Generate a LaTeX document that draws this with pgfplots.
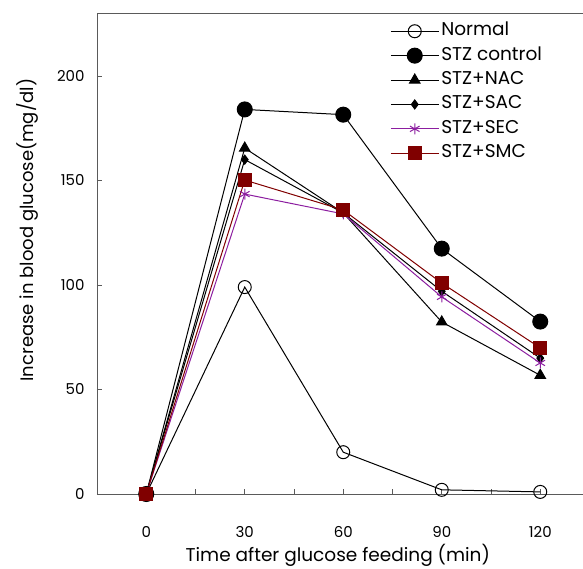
\documentclass[border=0pt]{standalone}
\usepackage{pgfplots}
\pgfplotsset{compat=1.18}
\usepackage{fontspec}
\setmainfont{Poppins}
\definecolor{smc}{RGB}{128,0,0}
\definecolor{sec}{RGB}{140,30,160}
\definecolor{axisgray}{RGB}{90,90,90}
\begin{document}
\begin{tikzpicture}
\begin{axis}[
    scale only axis,
    width=492.5pt,
    height=480.7pt,
    xmin=-15, xmax=135,
    ymin=0, ymax=230,
    clip=false,
    axis line style={axisgray, line width=0.8pt},
    tick style={axisgray, line width=0.8pt},
    major tick length=5pt,
    minor tick length=5pt,
    tick align=inside,
    xtick={0,30,60,90,120},
    minor xtick={15,45,75,105},
    ytick={0,50,100,150,200},
    xtick pos=bottom,
    ytick pos=left,
    font=\fontsize{15}{18}\selectfont,
    /pgf/number format/assume math mode=true,
    xticklabel style={yshift=-29pt},
    yticklabel style={xshift=-9pt},
    xlabel={Time after glucose feeding (min)},
    ylabel={Increase in blood glucose(mg/dl)},
    xlabel style={font=\fontsize{18.5}{21}\selectfont, at={(axis description cs:0.489,-0.127)}, anchor=center},
    ylabel style={font=\fontsize{18}{21}\selectfont, at={(axis description cs:-0.142,0.549)}, anchor=center},
    legend style={draw=none, fill=none, at={(axis description cs:0.593,0.987)}, anchor=north west,
        row sep=3.4pt, font=\fontsize{18.5}{21}\selectfont, inner sep=1pt,
        nodes={inner sep=2pt, text height=13pt, text depth=4pt}},
    legend cell align=left,
    legend image code/.code={\draw[mark repeat=2,mark phase=2] plot coordinates {(0pt,0pt) (24pt,0pt) (48pt,0pt)};},
]
\addplot[black, line width=1pt, mark=o, mark size=6.5pt, mark options={fill=white, line width=1pt}]
  coordinates {(0,0) (30,99) (60,20) (90,2) (120,1)};
\addlegendentry{Normal}
\addplot[black, line width=1pt, mark=*, mark size=7.5pt]
  coordinates {(0,0) (30,184) (60,181.5) (90,117.4) (120,82.5)};
\addlegendentry{STZ control}
\addplot[black, line width=1pt, mark=triangle*, mark size=6pt]
  coordinates {(0,0) (30,165.5) (60,134.5) (90,82.3) (120,56.8)};
\addlegendentry{STZ+NAC}
\addplot[black, line width=1pt, mark=diamond*, mark size=4.5pt]
  coordinates {(0,0) (30,160) (60,134.5) (90,97) (120,65)};
\addlegendentry{STZ+SAC}
\addplot[sec, line width=1pt, mark=asterisk, mark size=5.5pt, mark options={line width=1pt}]
  coordinates {(0,0) (30,143.5) (60,134) (90,94.3) (120,62.7)};
\addlegendentry{STZ+SEC}
\addplot[smc, line width=1pt, mark=square*, mark size=6.5pt]
  coordinates {(0,0) (30,150.2) (60,135.9) (90,100.9) (120,69.9)};
\addlegendentry{STZ+SMC}
\end{axis}
\pgfresetboundingbox
\useasboundingbox (-97pt,-75pt) rectangle (486pt,494pt);
\end{tikzpicture}
\end{document}
